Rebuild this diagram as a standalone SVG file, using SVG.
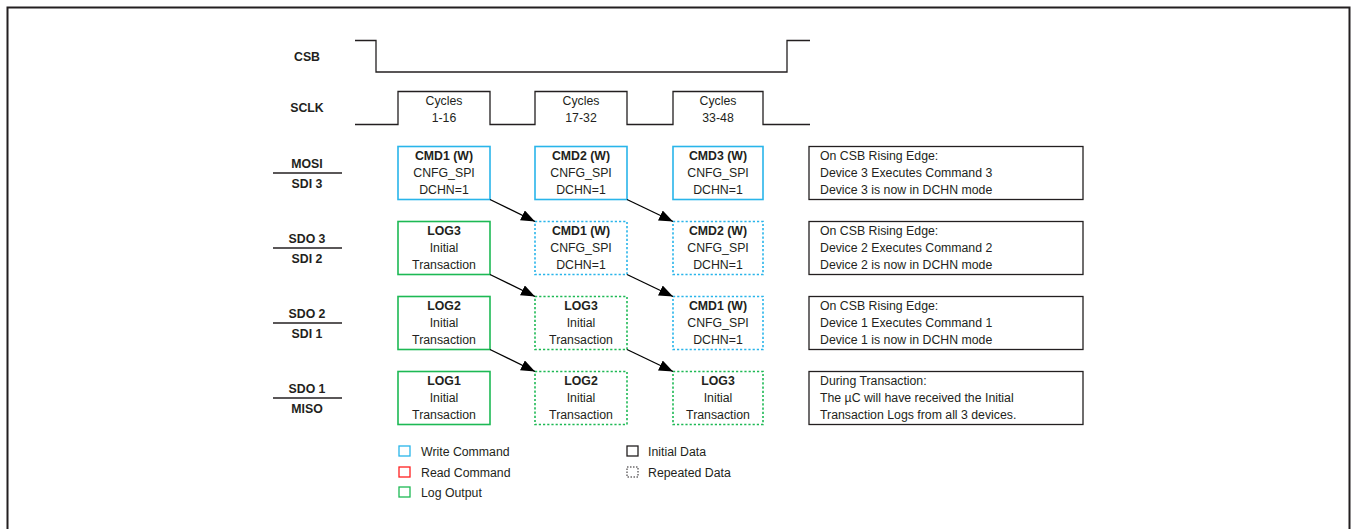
<svg xmlns="http://www.w3.org/2000/svg" width="1351" height="529" viewBox="0 0 1351 529">
<defs>
<style>
text{font-family:"Liberation Sans",Arial,sans-serif;font-size:12.3px;fill:#231f20}
.b{font-weight:bold}
.c{text-anchor:middle}
.wire{fill:none;stroke:#231f20;stroke-width:1.3}
.blue{fill:#fff;stroke:#29b5ea;stroke-width:1.6}
.green{fill:#fff;stroke:#1db954;stroke-width:1.6}
.dash{stroke-dasharray:2.2 2}
.note{fill:#fff;stroke:#231f20;stroke-width:1.3}
.arr{stroke:#000;stroke-width:1.3;fill:none;marker-end:url(#ah)}
</style>
<marker id="ah" markerUnits="userSpaceOnUse" markerWidth="15" markerHeight="11" refX="14" refY="5.5" orient="auto">
<path d="M0,0 L14,5.5 L0,11 Z" fill="#000"/>
</marker>
</defs>
<rect width="1351" height="529" fill="#fff"/>
<path d="M7.5,540 V7.5 H1349.5 V540" fill="none" stroke="#231f20" stroke-width="2"/>

<g id="signal-labels">
<text class="b c" x="307" y="61">CSB</text>
<text class="b c" x="307" y="112">SCLK</text>
<text class="b c" x="307" y="167.5">MOSI</text>
<line x1="273" y1="173" x2="342" y2="173" stroke="#231f20" stroke-width="1.5"/>
<text class="b c" x="307" y="187.5">SDI 3</text>
<text class="b c" x="307" y="242.5">SDO 3</text>
<line x1="273" y1="248" x2="342" y2="248" stroke="#231f20" stroke-width="1.5"/>
<text class="b c" x="307" y="262.5">SDI 2</text>
<text class="b c" x="307" y="317.5">SDO 2</text>
<line x1="273" y1="323" x2="342" y2="323" stroke="#231f20" stroke-width="1.5"/>
<text class="b c" x="307" y="337.5">SDI 1</text>
<text class="b c" x="307" y="392.5">SDO 1</text>
<line x1="273" y1="398" x2="342" y2="398" stroke="#231f20" stroke-width="1.5"/>
<text class="b c" x="307" y="412.5">MISO</text>
</g>

<g id="csb-wave">
<path class="wire" d="M355,40.5 H376 V72 H787 V40.5 H810"/>
</g>

<g id="sclk-wave">
<path class="wire" d="M355,124.5 H398 V91.5 H490 V124.5 H535 V91.5 H627 V124.5 H673 V91.5 H763 V124.5 H810"/>
<text class="c" x="444" y="104.5">Cycles</text>
<text class="c" x="444" y="122">1-16</text>
<text class="c" x="581" y="104.5">Cycles</text>
<text class="c" x="581" y="122">17-32</text>
<text class="c" x="718" y="104.5">Cycles</text>
<text class="c" x="718" y="122">33-48</text>
</g>

<!-- Row 1: MOSI / SDI 3 -->
<g id="r1c1"><rect class="blue" x="398" y="146.5" width="92" height="53"/>
<text class="b c" x="444" y="160">CMD1 (W)</text><text class="c" x="444" y="177">CNFG_SPI</text><text class="c" x="444" y="194">DCHN=1</text></g>
<g id="r1c2"><rect class="blue" x="535" y="146.5" width="92" height="53"/>
<text class="b c" x="581" y="160">CMD2 (W)</text><text class="c" x="581" y="177">CNFG_SPI</text><text class="c" x="581" y="194">DCHN=1</text></g>
<g id="r1c3"><rect class="blue" x="673" y="146.5" width="90" height="53"/>
<text class="b c" x="718" y="160">CMD3 (W)</text><text class="c" x="718" y="177">CNFG_SPI</text><text class="c" x="718" y="194">DCHN=1</text></g>

<!-- Row 2: SDO 3 / SDI 2 -->
<g id="r2c1"><rect class="green" x="398" y="221.5" width="92" height="53"/>
<text class="b c" x="444" y="235">LOG3</text><text class="c" x="444" y="252">Initial</text><text class="c" x="444" y="269">Transaction</text></g>
<g id="r2c2"><rect class="blue dash" x="535" y="221.5" width="92" height="53"/>
<text class="b c" x="581" y="235">CMD1 (W)</text><text class="c" x="581" y="252">CNFG_SPI</text><text class="c" x="581" y="269">DCHN=1</text></g>
<g id="r2c3"><rect class="blue dash" x="673" y="221.5" width="90" height="53"/>
<text class="b c" x="718" y="235">CMD2 (W)</text><text class="c" x="718" y="252">CNFG_SPI</text><text class="c" x="718" y="269">DCHN=1</text></g>

<!-- Row 3: SDO 2 / SDI 1 -->
<g id="r3c1"><rect class="green" x="398" y="296.5" width="92" height="53"/>
<text class="b c" x="444" y="310">LOG2</text><text class="c" x="444" y="327">Initial</text><text class="c" x="444" y="344">Transaction</text></g>
<g id="r3c2"><rect class="green dash" x="535" y="296.5" width="92" height="53"/>
<text class="b c" x="581" y="310">LOG3</text><text class="c" x="581" y="327">Initial</text><text class="c" x="581" y="344">Transaction</text></g>
<g id="r3c3"><rect class="blue dash" x="673" y="296.5" width="90" height="53"/>
<text class="b c" x="718" y="310">CMD1 (W)</text><text class="c" x="718" y="327">CNFG_SPI</text><text class="c" x="718" y="344">DCHN=1</text></g>

<!-- Row 4: SDO 1 / MISO -->
<g id="r4c1"><rect class="green" x="398" y="371.5" width="92" height="53"/>
<text class="b c" x="444" y="385">LOG1</text><text class="c" x="444" y="402">Initial</text><text class="c" x="444" y="419">Transaction</text></g>
<g id="r4c2"><rect class="green dash" x="535" y="371.5" width="92" height="53"/>
<text class="b c" x="581" y="385">LOG2</text><text class="c" x="581" y="402">Initial</text><text class="c" x="581" y="419">Transaction</text></g>
<g id="r4c3"><rect class="green dash" x="673" y="371.5" width="90" height="53"/>
<text class="b c" x="718" y="385">LOG3</text><text class="c" x="718" y="402">Initial</text><text class="c" x="718" y="419">Transaction</text></g>

<g id="connectors">
<line class="arr" x1="490" y1="199.5" x2="535" y2="221.5"/>
<line class="arr" x1="627" y1="199.5" x2="673" y2="221.5"/>
<line class="arr" x1="490" y1="274.5" x2="535" y2="296.5"/>
<line class="arr" x1="627" y1="274.5" x2="673" y2="296.5"/>
<line class="arr" x1="490" y1="349.5" x2="535" y2="371.5"/>
<line class="arr" x1="627" y1="349.5" x2="673" y2="371.5"/>
</g>

<g id="note1"><rect class="note" x="809" y="146.5" width="274" height="53"/>
<text x="820" y="160">On CSB Rising Edge:</text><text x="820" y="177">Device 3 Executes Command 3</text><text x="820" y="194">Device 3 is now in DCHN mode</text></g>
<g id="note2"><rect class="note" x="809" y="221.5" width="274" height="53"/>
<text x="820" y="235">On CSB Rising Edge:</text><text x="820" y="252">Device 2 Executes Command 2</text><text x="820" y="269">Device 2 is now in DCHN mode</text></g>
<g id="note3"><rect class="note" x="809" y="296.5" width="274" height="53"/>
<text x="820" y="310">On CSB Rising Edge:</text><text x="820" y="327">Device 1 Executes Command 1</text><text x="820" y="344">Device 1 is now in DCHN mode</text></g>
<g id="note4"><rect class="note" x="809" y="371.5" width="274" height="53"/>
<text x="820" y="385">During Transaction:</text><text x="820" y="402">The µC will have received the Initial</text><text x="820" y="419">Transaction Logs from all 3 devices.</text></g>

<g id="legend">
<rect x="399" y="446" width="11" height="10" fill="#fff" stroke="#29b5ea" stroke-width="1.3"/>
<text x="421" y="455.5">Write Command</text>
<rect x="399" y="467" width="11" height="10" fill="#fff" stroke="#ff2020" stroke-width="1.3"/>
<text x="421" y="476.5">Read Command</text>
<rect x="399" y="487" width="11" height="10" fill="#fff" stroke="#1db954" stroke-width="1.3"/>
<text x="421" y="496.5">Log Output</text>
<rect x="627" y="446" width="11" height="10" fill="#fff" stroke="#231f20" stroke-width="1.3"/>
<text x="648" y="455.5">Initial Data</text>
<rect x="627" y="467" width="11" height="10" fill="#fff" stroke="#231f20" stroke-width="1" stroke-dasharray="1.5 1.5"/>
<text x="648" y="476.5">Repeated Data</text>
</g>
</svg>
